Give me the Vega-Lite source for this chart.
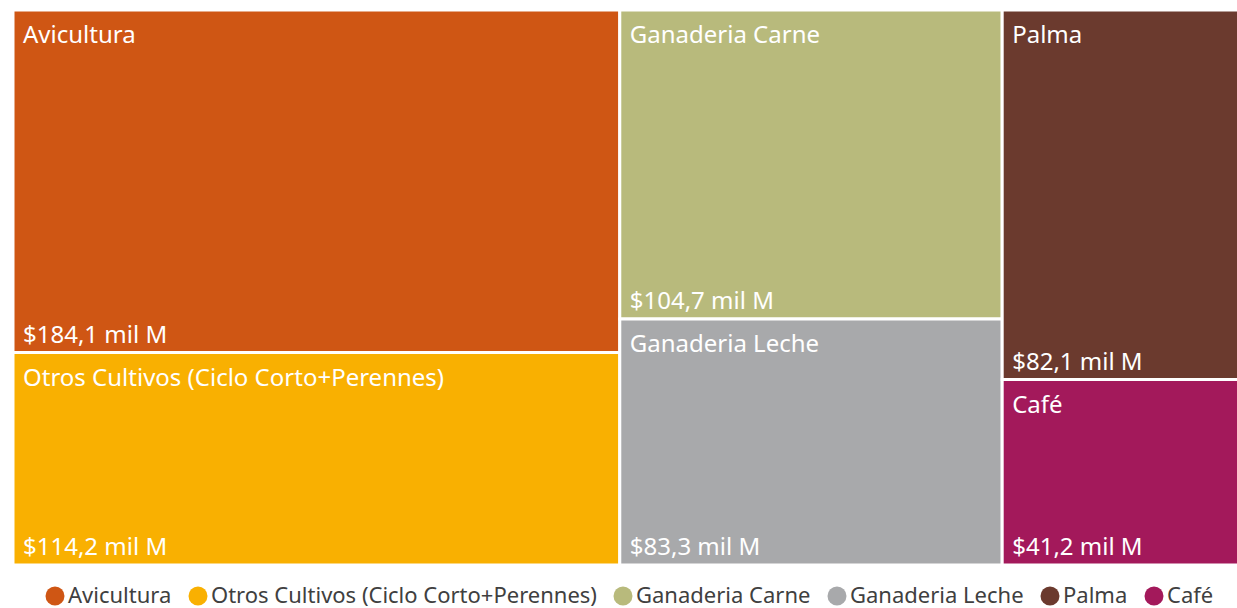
{
  "$schema": "https://vega.github.io/schema/vega-lite/v6.json",
  "width": 1240,
  "height": 555,
  "autosize": {"type": "none"},
  "padding": {"left": 13, "top": 10, "right": 0, "bottom": 43},
  "config": {
    "view": {"stroke": null},
    "font": "Noto Sans",
    "locale": {"number": {"decimal": ",", "thousands": ".", "grouping": [3], "currency": ["$", " mil M"]}}
  },
  "data": {
    "values": [
      {"cat": "Avicultura", "value": 184.1, "col": 1, "ord": 1},
      {"cat": "Otros Cultivos (Ciclo Corto+Perennes)", "value": 114.2, "col": 1, "ord": 2},
      {"cat": "Ganaderia Carne", "value": 104.7, "col": 2, "ord": 1},
      {"cat": "Ganaderia Leche", "value": 83.3, "col": 2, "ord": 2},
      {"cat": "Palma", "value": 82.1, "col": 3, "ord": 1},
      {"cat": "Café", "value": 41.2, "col": 3, "ord": 2}
    ]
  },
  "transform": [
    {"stack": "value", "groupby": [], "sort": [{"field": "col"}, {"field": "ord"}], "as": ["s0", "s1"]},
    {"joinaggregate": [{"op": "min", "field": "s0", "as": "xStart"}, {"op": "max", "field": "s1", "as": "xEnd"}], "groupby": ["col"]},
    {"stack": "value", "groupby": ["col"], "sort": [{"field": "ord"}], "offset": "normalize", "as": ["y0", "y1"]}
  ],
  "encoding": {
    "x": {"field": "xStart", "type": "quantitative", "scale": {"domain": [0, 609.6], "nice": false, "zero": true}, "axis": null}
  },
  "layer": [
    {
      "mark": {"type": "rect", "stroke": "white", "strokeWidth": 3},
      "encoding": {
        "x2": {"field": "xEnd"},
        "y": {"field": "y0", "type": "quantitative", "scale": {"domain": [0, 1], "reverse": true, "nice": false}, "axis": null},
        "y2": {"field": "y1"},
        "color": {
          "field": "cat", "type": "nominal",
          "scale": {
            "domain": ["Avicultura", "Otros Cultivos (Ciclo Corto+Perennes)", "Ganaderia Carne", "Ganaderia Leche", "Palma", "Café"],
            "range": ["#CF5614", "#F9B001", "#B8BA7C", "#A8A9AB", "#6B3A2E", "#A3195B"]
          },
          "legend": {
            "title": null, "orient": "none", "direction": "horizontal",
            "legendX": 31, "legendY": 575, "padding": 0,
            "symbolType": "circle", "symbolSize": 360, "symbolStrokeWidth": 0,
            "labelFontSize": 22, "labelColor": "#404040", "labelFont": "Noto Sans",
            "columnPadding": 15, "symbolOffset": 0, "labelOffset": 2, "labelLimit": 500
          }
        }
      }
    },
    {
      "mark": {"type": "text", "color": "white", "fontSize": 24, "align": "left", "baseline": "top", "dx": 10, "dy": 14},
      "encoding": {
        "y": {"field": "y0", "type": "quantitative"},
        "text": {"field": "cat"}
      }
    },
    {
      "mark": {"type": "text", "color": "white", "fontSize": 24, "align": "left", "baseline": "alphabetic", "dx": 10, "dy": -10},
      "encoding": {
        "y": {"field": "y1", "type": "quantitative"},
        "text": {"field": "value", "type": "quantitative", "format": "$.1f"}
      }
    }
  ]
}
